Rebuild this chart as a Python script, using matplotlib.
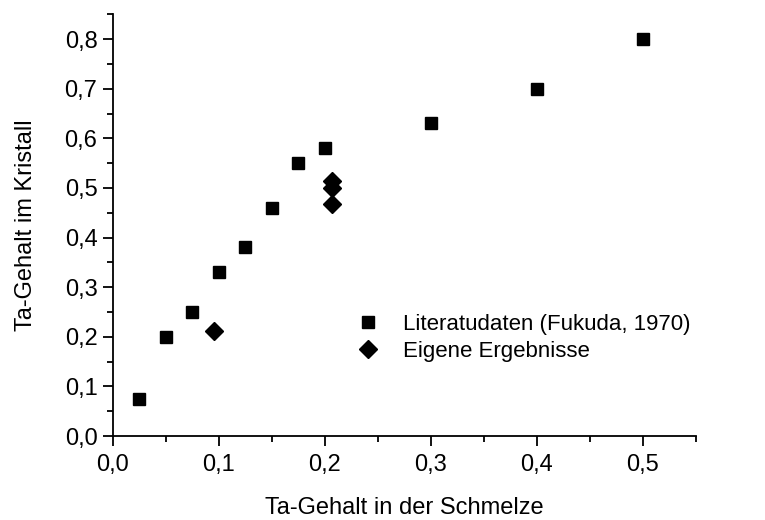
import matplotlib
matplotlib.use("Agg")
import matplotlib.pyplot as plt
from matplotlib.ticker import MultipleLocator, FuncFormatter

plt.rcParams['font.family'] = ['Liberation Sans', 'DejaVu Sans']

# Literature data (Fukuda, 1970)
lit_x = [0.025, 0.05, 0.075, 0.1, 0.125, 0.15, 0.175, 0.2, 0.3, 0.4, 0.5]
lit_y = [0.075, 0.2, 0.25, 0.33, 0.38, 0.46, 0.55, 0.58, 0.63, 0.7, 0.8]

# own results
own_x = [0.096, 0.207, 0.207, 0.207]
own_y = [0.212, 0.513, 0.499, 0.467]

fig = plt.figure(figsize=(7.65, 5.2), dpi=100)
ax = fig.add_axes([0.1473, 0.1615, 0.9098 - 0.1473, 0.9725 - 0.1615])

ax.plot(lit_x, lit_y, 's', color='black', markersize=9, linestyle='none',
        label='Literatudaten (Fukuda, 1970)')
ax.plot(own_x, own_y, 'D', color='black', markersize=9, linestyle='none',
        label='Eigene Ergebnisse')

ax.set_xlim(0, 0.55)
ax.set_ylim(0, 0.85)

ax.spines['top'].set_visible(False)
ax.spines['right'].set_visible(False)
for s in ('left', 'bottom'):
    ax.spines[s].set_linewidth(1.3)

ax.xaxis.set_major_locator(MultipleLocator(0.1))
ax.xaxis.set_minor_locator(MultipleLocator(0.05))
ax.yaxis.set_major_locator(MultipleLocator(0.1))
ax.yaxis.set_minor_locator(MultipleLocator(0.05))

comma = FuncFormatter(lambda v, p: f"{v:.1f}".replace('.', ','))
ax.xaxis.set_major_formatter(comma)
ax.yaxis.set_major_formatter(comma)

ax.tick_params(which='major', direction='out', length=7, width=1.3, labelsize=17)
ax.tick_params(which='minor', direction='out', length=4, width=1.3)
ax.tick_params(axis='x', which='major', pad=6)
ax.tick_params(axis='y', which='major', pad=4)

ax.set_xlabel("Ta-Gehalt in der Schmelze", fontsize=17, labelpad=15)
ax.set_ylabel("Ta-Gehalt im Kristall", fontsize=17, labelpad=20)

ax.legend(loc='upper left', bbox_to_anchor=(0.385, 0.31), frameon=False,
          fontsize=16, handletextpad=0.55, labelspacing=0.25, borderaxespad=0)

fig.savefig("out.png", dpi=100)
